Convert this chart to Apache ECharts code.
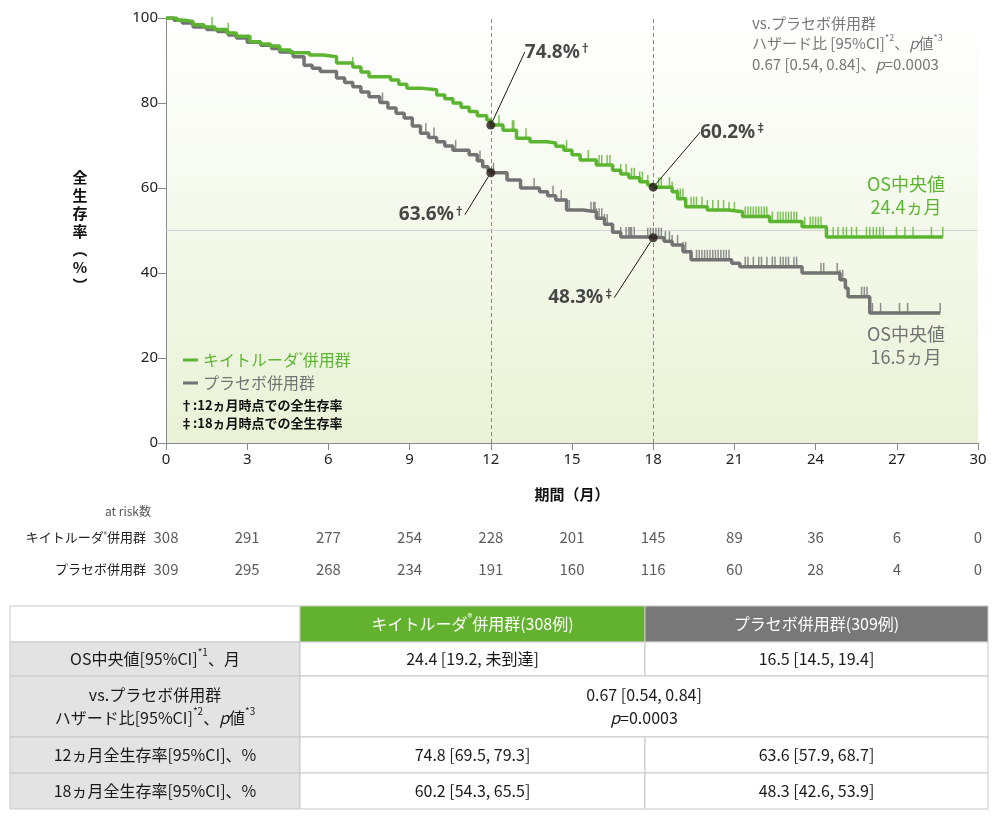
<!DOCTYPE html>
<html lang="ja">
<head>
<meta charset="UTF-8" />
<title>全生存率</title>
<script src="https://cdn.jsdelivr.net/npm/echarts@6.0.0/dist/echarts.min.js"></script>
<style>html,body{margin:0;background:#fff}</style>
</head>
<body>
<div id="main" style="width:1000px;height:819px"></div>
<script>
// Kaplan-Meier steps [month, survival %]
const months = [0, 3, 6, 9, 12, 15, 18, 21, 24, 27, 30];
const kmKeytruda = [[0,100],[0.4,99.5],[0.7,99.2],[1.0,98.4],[1.4,97.9],[1.8,97.3],[2.25,96.5],[2.6,95.7],[3.1,94.4],[3.5,93.9],[3.85,93.4],[4.2,92.5],[4.6,91.8],[5.3,91.3],[5.8,90.9],[6.3,89.4],[6.9,88.5],[7.2,87.3],[7.5,86.2],[8.3,85.4],[8.6,84.4],[8.9,83.5],[9.4,83.1],[10.0,81.9],[10.3,81.0],[10.6,80.0],[10.9,79.0],[11.2,78.0],[11.5,77.0],[11.85,76.0],[12.0,74.8],[12.45,73.6],[12.95,71.7],[13.45,70.9],[14.07,70.6],[14.4,69.8],[14.7,68.9],[15.0,67.8],[15.3,66.6],[15.9,65.4],[16.5,64.2],[16.8,63.3],[17.1,62.4],[17.5,61.5],[17.8,60.7],[18.0,60.2],[18.7,59.1],[18.9,57.5],[19.2,55.6],[20.0,54.8],[20.8,54.4],[21.3,53.3],[22.3,52.1],[23.5,50.9],[24.4,48.5],[28.7,48.5]];
const kmPlacebo = [[0,100],[0.3,99.5],[0.6,98.8],[1.0,97.9],[1.5,97.3],[1.9,96.8],[2.3,96.0],[2.6,95.3],[3.0,94.3],[3.5,93.6],[3.9,92.8],[4.2,92.0],[4.7,90.9],[5.1,88.9],[5.4,88.2],[5.7,87.4],[6.3,85.9],[6.6,84.8],[6.9,83.8],[7.2,82.6],[7.5,81.5],[7.9,80.1],[8.2,78.8],[8.5,77.6],[8.8,76.5],[9.1,74.6],[9.4,72.9],[9.7,71.9],[10.0,70.9],[10.3,69.9],[10.6,68.9],[11.2,67.8],[11.5,66.4],[11.7,65.0],[11.9,64.2],[12.0,63.6],[12.6,61.9],[13.1,60.0],[13.8,59.1],[14.1,58.2],[14.4,57.2],[14.8,54.8],[15.4,54.4],[15.9,52.9],[16.2,51.5],[16.5,49.6],[16.8,48.5],[17.8,48.3],[18.4,47.5],[18.7,46.6],[19.1,45.0],[19.4,43.1],[20.9,42.3],[21.2,41.5],[23.5,40.0],[24.9,38.4],[25.1,36.5],[25.2,34.4],[26.0,30.6],[28.6,30.6]];

// censor times (months)
const censorKeytruda = [1.7,2.3,6.9,12.3,12.8,12.85,13.3,14.8,15.6,16.0,16.1,16.3,16.4,16.8,17.0,17.2,17.3,17.5,17.6,17.8,18.2,18.3,18.6,18.7,18.9,19.0,19.1,19.2,19.4,19.5,19.6,19.8,20.0,20.2,20.4,20.6,20.8,21.0,21.4,21.5,21.6,21.7,21.8,21.9,22.0,22.1,22.2,22.4,22.6,22.7,22.8,22.9,23.0,23.1,23.2,23.3,23.6,23.8,23.9,24.0,24.1,24.2,24.65,24.83,25.02,25.14,25.33,25.51,25.88,26.0,26.13,26.25,26.37,26.5,26.99,27.3,27.6,28.28,28.7];
const censorPlacebo = [8.0,9.6,9.9,10.7,11.6,12.1,13.6,14.3,14.6,14.9,15.7,15.8,15.85,15.9,16.0,16.1,16.2,16.3,16.8,17.0,17.1,17.15,17.2,17.3,17.8,17.9,18.0,18.1,18.2,18.3,18.45,18.6,18.7,18.9,19.1,19.2,19.4,19.6,19.7,19.8,19.9,20.0,20.1,20.2,20.3,20.4,20.5,20.6,20.7,20.8,21.4,21.5,21.7,21.9,22.0,22.2,22.4,22.5,22.7,22.8,22.9,23.0,23.2,23.3,24.2,24.3,24.8,24.9,25.0,25.7,25.8,25.9,26.1,26.4,27.1,27.4,28.6];

// at risk
const riskKeytruda = [308, 291, 277, 254, 228, 201, 145, 89, 36, 6, 0];
const riskPlacebo = [309, 295, 268, 234, 191, 160, 116, 60, 28, 4, 0];

// landmark survival: [month, %, mark]
const landmarks = [[12, 74.8, '†'], [18, 60.2, '‡'], [12, 63.6, '†'], [18, 48.3, '‡']];

// summary table
const tableHeader = ['キイトルーダ{sup|®}併用群(308例)', 'プラセボ併用群(309例)'];
const tableRowLabels = [
  'OS中央値[95%CI]{sup|*1}、月',
  'vs.プラセボ併用群\nハザード比[95%CI]{sup|*2}、{it|p}値{sup|*3}',
  '12ヵ月全生存率[95%CI]、%',
  '18ヵ月全生存率[95%CI]、%'
];
const tableKeytruda = ['24.4 [19.2, 未到達]', null, '74.8 [69.5, 79.3]', '60.2 [54.3, 65.5]'];
const tablePlacebo = ['16.5 [14.5, 19.4]', null, '63.6 [57.9, 68.7]', '48.3 [42.6, 53.9]'];
const tableHazard = '0.67 [0.54, 0.84]\n{it|p}=0.0003';

const green = '#5cb531';
const gray = '#737373';
const FONT = '"Noto Sans CJK JP", "Noto Sans", sans-serif';
const NUM = '"Noto Sans", "DejaVu Sans", sans-serif';

function survAt(steps, t) {
  let v = steps[0][1];
  for (const [x, y] of steps) {
    if (x <= t) v = y; else break;
  }
  return v;
}

function richFor(size, color) {
  return {
    sup: { fontSize: Math.round(size * 0.6), verticalAlign: 'top', fill: color, color: color, fontFamily: FONT, lineHeight: size + 6 },
    it: { fontSize: size, fontStyle: 'italic', fill: color, color: color, fontFamily: FONT, lineHeight: size + 6 }
  };
}

// table graphics
const colX = [10, 300, 645, 988];
const rowH = [36, 34, 61, 36, 36];
const tableTop = 606;
const tableG = [];
function cell(x0, x1, y, h, fill, text, color) {
  tableG.push({ type: 'rect', shape: { x: x0, y: y, width: x1 - x0, height: h },
    style: { fill: fill, stroke: '#c9c9c9', lineWidth: 1 }, z: 1 });
  if (text) {
    tableG.push({ type: 'text', x: (x0 + x1) / 2, y: y + h / 2, z: 2,
      style: { text: text, fill: color, fontSize: 16, fontFamily: FONT, lineHeight: 23,
        align: 'center', verticalAlign: 'middle', rich: richFor(16, color) } });
  }
}
let yy = tableTop;
cell(colX[0], colX[1], yy, rowH[0], '#ffffff', null, '#222');
cell(colX[1], colX[2], yy, rowH[0], '#62b22f', tableHeader[0], '#ffffff');
cell(colX[2], colX[3], yy, rowH[0], '#787878', tableHeader[1], '#ffffff');
yy += rowH[0];
for (let i = 0; i < tableRowLabels.length; i++) {
  const h = rowH[i + 1];
  cell(colX[0], colX[1], yy, h, '#e3e3e3', tableRowLabels[i], '#1a1a1a');
  if (tableKeytruda[i] === null) {
    cell(colX[1], colX[3], yy, h, '#ffffff', tableHazard, '#1a1a1a');
  } else {
    cell(colX[1], colX[2], yy, h, '#ffffff', tableKeytruda[i], '#1a1a1a');
    cell(colX[2], colX[3], yy, h, '#ffffff', tablePlacebo[i], '#1a1a1a');
  }
  yy += h;
}

const landmarkOffsets = [[67, -73], [80, -55], [-59, 42], [-72, 60]];

const chart = echarts.init(document.getElementById('main'));
chart.setOption({
  backgroundColor: '#fff',
  animation: false,
  textStyle: { fontFamily: FONT },
  grid: [
    { left: 166, right: 22, top: 18, bottom: 376, show: true, borderWidth: 0,
      backgroundColor: new echarts.graphic.LinearGradient(0, 0, 0, 1, [
        { offset: 0, color: '#ffffff' }, { offset: 1, color: '#e9f2d6' }]) },
    { left: 166, right: 22, top: 521, height: 64 }
  ],
  xAxis: [
    { type: 'value', min: 0, max: 30, interval: 3, gridIndex: 0,
      name: '期間（月）', nameLocation: 'middle', nameGap: 44,
      nameTextStyle: { fontSize: 15, fontWeight: 'bold', color: '#111', fontFamily: FONT },
      axisLine: { show: true, lineStyle: { color: '#888', width: 1 } },
      axisTick: { show: true, length: 7, lineStyle: { color: '#888' } },
      axisLabel: { fontSize: 15, color: '#222', fontFamily: NUM, margin: 9 },
      splitLine: { show: false } },
    { type: 'value', min: 0, max: 30, gridIndex: 1, show: false }
  ],
  yAxis: [
    { type: 'value', min: 0, max: 100, interval: 20, gridIndex: 0,
      axisLine: { show: true, lineStyle: { color: '#888', width: 1 } },
      axisTick: { show: true, length: 8, lineStyle: { color: '#888' } },
      axisLabel: { fontSize: 15, color: '#222', fontFamily: NUM, margin: 8 },
      splitLine: { show: false } },
    { type: 'category', gridIndex: 1, inverse: true,
      data: ['キイトルーダ®併用群', 'プラセボ併用群'],
      axisLine: { show: false }, axisTick: { show: false },
      axisLabel: { margin: 20, fontSize: 13, color: '#222', fontFamily: FONT,
        formatter: v => v.replace('®', '{s|®}'),
        rich: { s: { fontSize: 7, verticalAlign: 'top', color: '#222' } } } }
  ],
  legend: {
    left: 178, top: 346, orient: 'vertical', icon: 'rect', itemWidth: 15, itemHeight: 3,
    itemGap: 5, selectedMode: false,
    data: [{ name: 'キイトルーダ®併用群', textStyle: { color: green } },
           { name: 'プラセボ併用群', textStyle: { color: gray } }],
    formatter: n => n.replace('®', '{s|®}'),
    textStyle: { fontSize: 16, lineHeight: 18, fontFamily: FONT,
      rich: { s: { fontSize: 8, verticalAlign: 'top' } } }
  },
  graphic: [
    { type: 'text', x: 80, y: 231, style: { text: '全\n生\n存\n率\n︵\n%\n︶', fill: '#111',
      fontSize: 15, fontWeight: 'bold', lineHeight: 18, fontFamily: FONT, align: 'center', verticalAlign: 'middle' } },
    { type: 'text', x: 752, y: 13, style: {
      text: 'vs.プラセボ併用群\nハザード比 [95%CI]{sup|*2}、{it|p}値{sup|*3}\n0.67 [0.54, 0.84]、{it|p}=0.0003',
      fill: '#777', fontSize: 15, lineHeight: 20, fontFamily: FONT, rich: richFor(15, '#777') } },
    { type: 'text', x: 906, y: 196, style: { text: 'OS中央値\n24.4ヵ月', fill: green, fontSize: 18,
      lineHeight: 23, fontFamily: FONT, align: 'center', verticalAlign: 'middle' } },
    { type: 'text', x: 906, y: 346, style: { text: 'OS中央値\n16.5ヵ月', fill: gray, fontSize: 18,
      lineHeight: 23, fontFamily: FONT, align: 'center', verticalAlign: 'middle' } },
    { type: 'text', x: 180, y: 396, style: { text: '†:12ヵ月時点での全生存率\n‡:18ヵ月時点での全生存率',
      fill: '#111', fontSize: 13, fontWeight: 'bold', lineHeight: 18, fontFamily: FONT } },
    { type: 'text', x: 128, y: 511, style: { text: 'at risk数', fill: '#555', fontSize: 12,
      fontFamily: FONT, align: 'center', verticalAlign: 'middle' } }
  ].concat(tableG),
  series: [
    { name: 'プラセボ併用群', type: 'line', step: 'end', data: kmPlacebo, showSymbol: false,
      lineStyle: { color: gray, width: 3.5 }, itemStyle: { color: gray }, z: 3,
      markLine: { silent: true, symbol: ['none', 'none'], label: { show: false }, z: 1,
        data: [
          { xAxis: 12, lineStyle: { type: [4, 3], color: '#888', width: 1 } },
          { xAxis: 18, lineStyle: { type: [4, 3], color: '#888', width: 1 } },
          { yAxis: 50, lineStyle: { type: 'solid', color: '#d2d2d2', width: 1 } }
        ] } },
    { name: 'キイトルーダ®併用群', type: 'line', step: 'end', data: kmKeytruda, showSymbol: false,
      lineStyle: { color: green, width: 3.5 }, itemStyle: { color: green }, z: 4 },
    { type: 'scatter', data: censorPlacebo.map(t => [t, survAt(kmPlacebo, t)]), symbol: 'rect',
      symbolSize: [1.5, 10], symbolOffset: [0, -5], itemStyle: { color: gray }, silent: true, z: 3 },
    { type: 'scatter', data: censorKeytruda.map(t => [t, survAt(kmKeytruda, t)]), symbol: 'rect',
      symbolSize: [1.5, 10], symbolOffset: [0, -5], itemStyle: { color: green }, silent: true, z: 4 },
    { type: 'scatter', z: 10, silent: true, symbolSize: 9, itemStyle: { color: '#231815' },
      data: landmarks.map(d => ({ value: [d[0], d[1]] })),
      label: { show: true, position: 'inside', color: '#1a1a1a', fontSize: 19, fontWeight: 'bold', fontFamily: NUM,
        formatter: p => '{v|' + p.value[1].toFixed(1) + '%}{s|' + landmarks[p.dataIndex][2] + '}',
        rich: { v: { fontSize: 19, fontWeight: 'bold', color: '#1a1a1a', fontFamily: NUM },
                s: { fontSize: 11, fontWeight: 'bold', color: '#1a1a1a', verticalAlign: 'top', fontFamily: FONT } } },
      labelLayout: p => ({ dx: landmarkOffsets[p.dataIndex][0], dy: landmarkOffsets[p.dataIndex][1] }),
      labelLine: { show: true, length2: 0, lineStyle: { color: '#1a1a1a', width: 1 } } },
    { type: 'scatter', xAxisIndex: 1, yAxisIndex: 1, symbolSize: 1, silent: true,
      itemStyle: { color: 'rgba(0,0,0,0)' },
      data: months.map((m, i) => [m, 0, riskKeytruda[i]]),
      label: { show: true, position: 'inside', formatter: p => p.value[2], fontSize: 15, color: '#333', fontFamily: FONT } },
    { type: 'scatter', xAxisIndex: 1, yAxisIndex: 1, symbolSize: 1, silent: true,
      itemStyle: { color: 'rgba(0,0,0,0)' },
      data: months.map((m, i) => [m, 1, riskPlacebo[i]]),
      label: { show: true, position: 'inside', formatter: p => p.value[2], fontSize: 15, color: '#333', fontFamily: FONT } }
  ]
});
</script>
</body>
</html>
